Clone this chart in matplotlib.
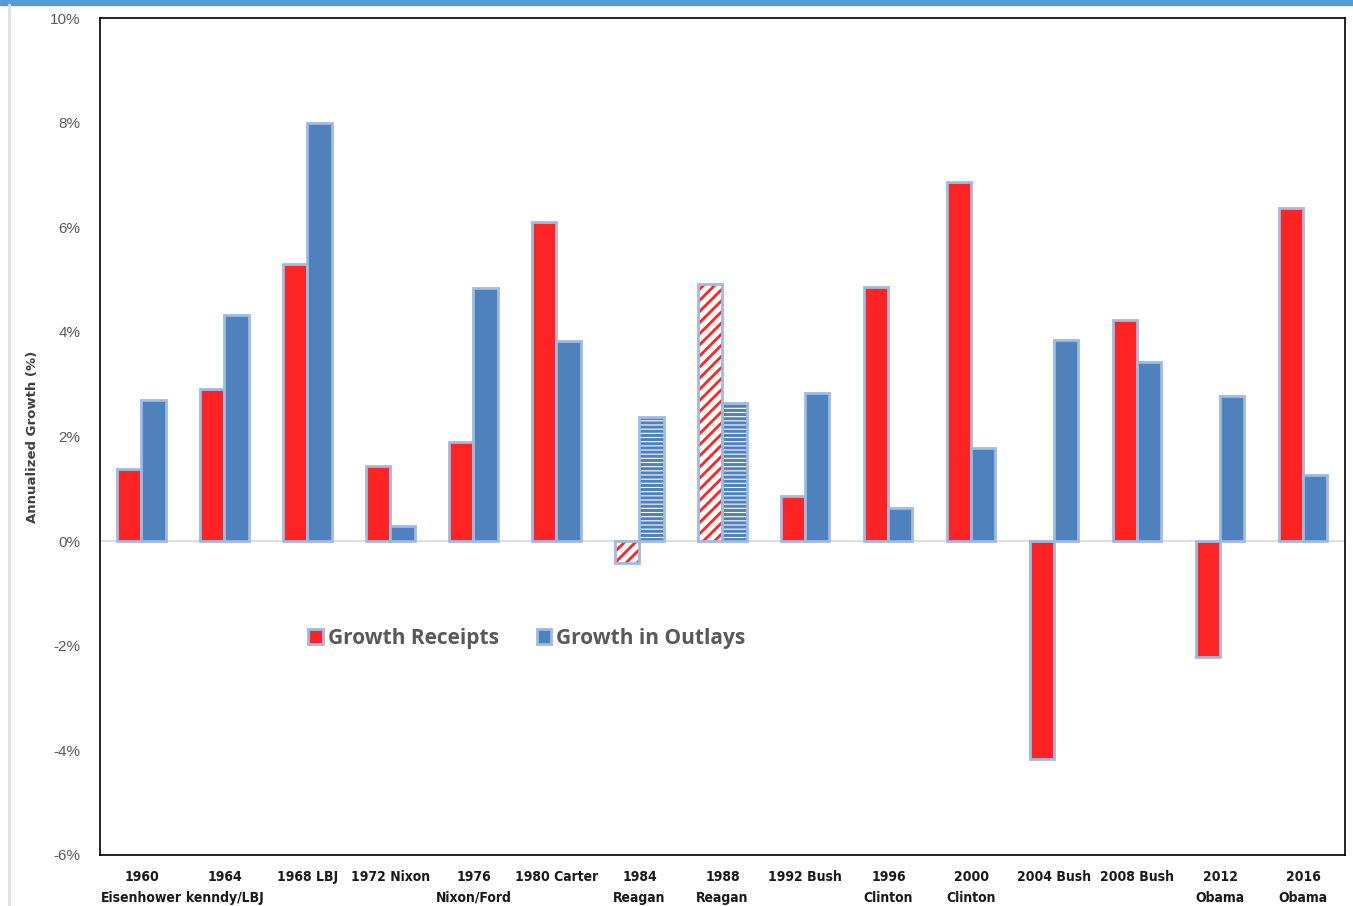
import matplotlib.pyplot as plt
import numpy as np
from matplotlib.patches import Rectangle
from matplotlib.lines import Line2D

labels = ["1960\nEisenhower", "1964\nkenndy/LBJ", "1968 LBJ", "1972 Nixon", "1976\nNixon/Ford",
          "1980 Carter", "1984\nReagan", "1988\nReagan", "1992 Bush", "1996\nClinton",
          "2000\nClinton", "2004 Bush", "2008 Bush", "2012\nObama", "2016\nObama"]
receipts = [1.38, 2.91, 5.30, 1.43, 1.89, 6.10, -0.42, 4.91, 0.86, 4.86, 6.86, -4.17, 4.23, -2.22, 6.37]
outlays = [2.70, 4.32, 7.99, 0.29, 4.84, 3.82, 2.37, 2.64, 2.83, 0.63, 1.78, 3.84, 3.42, 2.77, 1.26]
hatched = [6, 7]  # Reagan terms drawn with patterns

RED = "#FF2424"
BLUE = "#4F81BD"
EDGE = "#9DBBE3"
GRAY = "#595959"

fig = plt.figure(figsize=(13.53, 9.06), dpi=100)
ax = fig.add_axes([0.0739, 0.0563, 0.9201, 0.9237])

# page decorations
fig.patches.append(Rectangle((0, 0.994), 1, 0.006, transform=fig.transFigure, color="#5B9BD5", zorder=0))
fig.lines.append(Line2D([0.0066, 0.0066], [0, 0.994], transform=fig.transFigure, color="#E0E0E0", lw=2))

x = np.arange(len(labels))
w = 0.29
for i in x:
    for val, off, col, hatch, hlw in [(receipts[i], -w / 2, RED, "///", 2.0),
                                      (outlays[i], w / 2, BLUE, "----", 2.2)]:
        if i in hatched:
            with plt.rc_context({"hatch.linewidth": hlw}):
                ax.bar(i + off, val, w, color="white", edgecolor=col, hatch=hatch, linewidth=0, zorder=2)
            ax.bar(i + off, val, w, fill=False, edgecolor=EDGE, linewidth=2, zorder=3)
        else:
            ax.bar(i + off, val, w, color=col, edgecolor=EDGE, linewidth=2, zorder=2)

ax.axhline(0, color="#D9D9D9", lw=1.2, zorder=1)
ax.set_xlim(-0.5, len(labels) - 0.5)
ax.set_ylim(-6, 10)
ax.set_yticks(range(-6, 11, 2))
ax.set_yticklabels([f"{v}%" for v in range(-6, 11, 2)], color=GRAY, fontsize=11,
                   family=["Liberation Sans", "DejaVu Sans"])
ax.set_xticks(x)
ax.set_xticklabels(labels, fontsize=10, fontweight="bold", color="#1a1a1a",
                   family=["DejaVu Sans"], fontstretch="condensed", linespacing=1.6, va="top")
ax.tick_params(length=0, axis="both")
ax.tick_params(axis="x", pad=11)
ax.tick_params(axis="y", pad=14)
for s in ax.spines.values():
    s.set_color("black")
    s.set_linewidth(1.2)
ax.set_ylabel("Annualized Growth (%)", fontsize=9.5, fontweight="bold", color="#404040", labelpad=8)

handles = [Rectangle((0, 0), 1, 1, facecolor=RED, edgecolor=EDGE, lw=2),
           Rectangle((0, 0), 1, 1, facecolor=BLUE, edgecolor=EDGE, lw=2)]
leg = ax.legend(handles, ["Growth Receipts", "Growth in Outlays"], ncol=2, frameon=False,
                loc="center", bbox_to_anchor=(0.343, 0.259), handlelength=0.7, handleheight=0.7,
                handletextpad=0.25, columnspacing=1.8,
                prop={"size": 15, "weight": "bold", "family": ["Open Sans", "DejaVu Sans"]})
for t in leg.get_texts():
    t.set_color(GRAY)

plt.savefig("out.png", dpi=100)
